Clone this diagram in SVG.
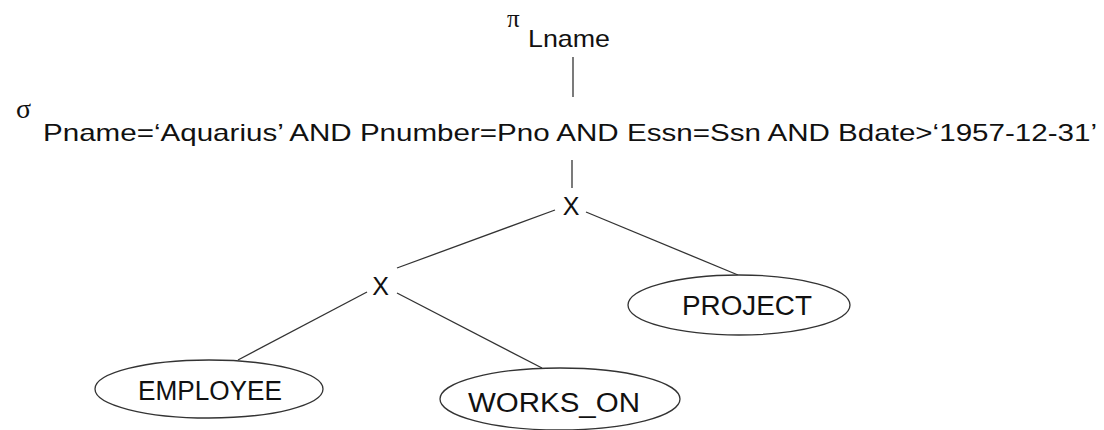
<svg xmlns="http://www.w3.org/2000/svg" width="1104" height="430" viewBox="0 0 1104 430">
<style>
.t{font-family:"Liberation Sans",Arial,sans-serif;fill:#111}
.g{font-family:"Liberation Serif","Times New Roman",serif;fill:#111}
.e{fill:#fff;stroke:#333;stroke-width:1.3}
.c line{stroke:#333;stroke-width:1.3}
</style>
<rect width="1104" height="430" fill="#fff"/>
<g id="project-op">
<text class="g" x="507" y="27" font-size="25">π</text>
<text class="t" x="528" y="47" font-size="24" textLength="82" lengthAdjust="spacingAndGlyphs">Lname</text>
</g>
<g id="select-op">
<text class="g" x="16" y="118" font-size="28">σ</text>
<text class="t" x="43" y="141" font-size="24" textLength="1054" lengthAdjust="spacingAndGlyphs">Pname=‘Aquarius’ AND Pnumber=Pno AND Essn=Ssn AND Bdate&gt;‘1957-12-31’</text>
</g>
<g id="cross1">
<text class="t" x="571" y="215" font-size="25" text-anchor="middle">X</text>
</g>
<g id="cross2">
<text class="t" x="380.5" y="295" font-size="25" text-anchor="middle">X</text>
</g>
<g id="connectors" class="c">
<line x1="573" y1="57" x2="573" y2="97"/>
<line x1="572" y1="160" x2="572" y2="188"/>
<line x1="555" y1="210" x2="397" y2="268"/>
<line x1="586" y1="212" x2="738" y2="275"/>
<line x1="367" y1="292" x2="238" y2="360"/>
<line x1="397" y1="293" x2="542" y2="368"/>
</g>
<g id="PROJECT">
<ellipse class="e" cx="739" cy="305" rx="111" ry="30"/>
<text class="t" x="747" y="315" font-size="27" text-anchor="middle" textLength="130" lengthAdjust="spacingAndGlyphs">PROJECT</text>
</g>
<g id="EMPLOYEE">
<ellipse class="e" cx="209" cy="389" rx="114" ry="29"/>
<text class="t" x="210" y="400" font-size="27" text-anchor="middle" textLength="144" lengthAdjust="spacingAndGlyphs">EMPLOYEE</text>
</g>
<g id="WORKS_ON">
<ellipse class="e" cx="560" cy="399" rx="120" ry="31"/>
<text class="t" x="554" y="412" font-size="27" text-anchor="middle" textLength="172" lengthAdjust="spacingAndGlyphs">WORKS_ON</text>
</g>
</svg>
